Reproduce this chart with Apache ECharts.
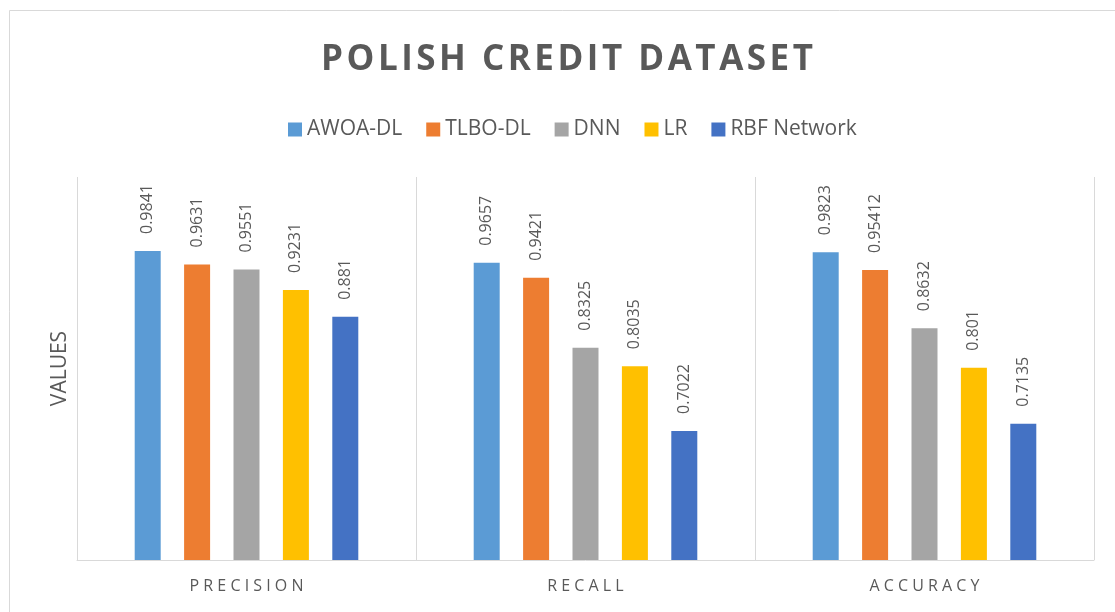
<!DOCTYPE html>
<html>
<head>
<meta charset="utf-8">
<script src="https://cdn.jsdelivr.net/npm/echarts@6/dist/echarts.min.js"></script>
<style>
  html, body { margin: 0; padding: 0; background: #fff; }
  #chart { width: 1115px; height: 612px; }
</style>
</head>
<body>
<div id="chart"></div>
<script>
// 数据
const titleText = 'POLISH CREDIT DATASET'
const categories = ['PRECISION', 'RECALL', 'ACCURACY']
const seriesNames = ['AWOA-DL', 'TLBO-DL', 'DNN', 'LR', 'RBF Network']
const awoaDL = [0.9841, 0.9657, 0.9823]
const tlboDL = [0.9631, 0.9421, 0.95412]
const dnn = [0.9551, 0.8325, 0.8632]
const lr = [0.9231, 0.8035, 0.801]
const rbfNetwork = [0.881, 0.7022, 0.7135]
const colors = ['#5B9BD5', '#ED7D31', '#A5A5A5', '#FFC000', '#4472C4']

const textColor = '#595959'
const fontFamily = 'Open Sans, Noto Sans, sans-serif'

let myChart = echarts.init(document.getElementById('chart'))

// 字母之间加细空格，模拟字距
function spaced(s, sep) {
    return s.split('').join(sep)
}

function makeSeries(name, data, i) {
    return {
        name: name,
        type: 'bar',
        data: data,
        barWidth: 26,
        barGap: '90%',
        itemStyle: { color: colors[i] },
        label: {
            show: true,
            position: 'top',
            rotate: 90,
            align: 'left',
            verticalAlign: 'middle',
            distance: 17,
            color: textColor,
            fontSize: 16,
            fontFamily: fontFamily
        }
    }
}

let option = {
    animation: false,
    backgroundColor: '#fff',
    title: {
        text: spaced(titleText, '\u200A'),
        left: 562,
        textAlign: 'center',
        top: 38,
        textStyle: {
            color: textColor,
            fontSize: 35,
            fontWeight: 'bold',
            fontFamily: fontFamily
        }
    },
    legend: {
        data: seriesNames,
        top: 114,
        left: 283,
        itemWidth: 14,
        itemHeight: 14,
        itemGap: 24,
        icon: 'rect',
        textStyle: { color: textColor, fontSize: 21, fontFamily: fontFamily }
    },
    graphic: [{
        type: 'rect',
        shape: { x: 9.5, y: 10.5, width: 1200, height: 700 },
        style: { fill: 'none', stroke: '#d9d9d9', lineWidth: 1 },
        silent: true
    }],
    grid: { left: 77, right: 21, top: 177, bottom: 52 },
    xAxis: {
        type: 'category',
        data: categories,
        axisLine: { lineStyle: { color: '#d9d9d9' } },
        axisTick: { show: false },
        splitLine: { show: true, interval: 0, lineStyle: { color: '#d9d9d9', width: 1 } },
        axisLabel: {
            color: textColor,
            fontSize: 16,
            fontFamily: fontFamily,
            margin: 18,
            formatter: v => spaced(v, ' ')
        }
    },
    yAxis: {
        type: 'value',
        min: 0.5,
        max: 1.1,
        name: 'VALUES',
        nameLocation: 'middle',
        nameGap: 6,
        nameRotate: 90,
        nameTextStyle: { color: textColor, fontSize: 21, fontFamily: fontFamily },
        axisLine: { show: false },
        axisTick: { show: false },
        axisLabel: { show: false },
        splitLine: { show: false }
    },
    series: [
        makeSeries(seriesNames[0], awoaDL, 0),
        makeSeries(seriesNames[1], tlboDL, 1),
        makeSeries(seriesNames[2], dnn, 2),
        makeSeries(seriesNames[3], lr, 3),
        makeSeries(seriesNames[4], rbfNetwork, 4)
    ]
}
myChart.setOption(option)
</script>
</body>
</html>
